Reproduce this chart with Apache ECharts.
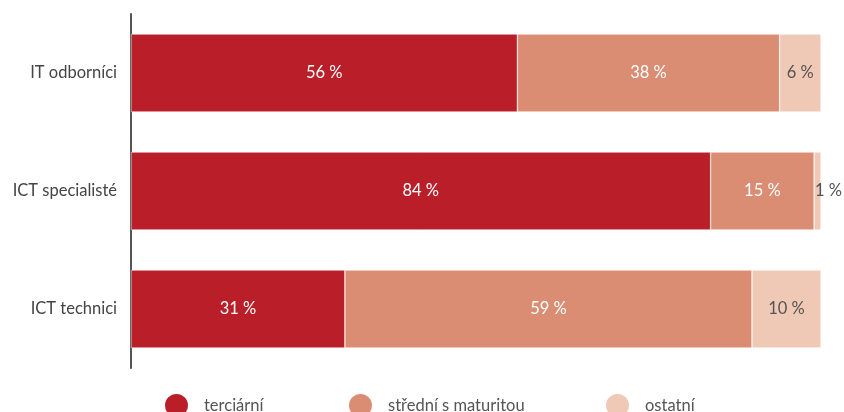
<!DOCTYPE html>
<html><head><meta charset="utf-8">
<script src="https://cdn.jsdelivr.net/npm/echarts@6/dist/echarts.min.js"></script>
<style>html,body{margin:0;padding:0;background:#fff}#c{width:844px;height:412px}</style>
</head><body><div id="c"></div>
<script>
const categories = ['IT odborníci', 'ICT specialisté', 'ICT technici'];
const seriesNames = ['terciární', 'střední s maturitou', 'ostatní'];
const terciarni = [56, 84, 31];
const stredni = [38, 15, 59];
const ostatni = [6, 1, 10];

const colors = ['#BA1F29', '#DA8D72', '#F0C8B6'];
const labelColors = ['#ffffff', '#ffffff', '#555555'];
const font = 'Lato, "Noto Sans", sans-serif';
const chart = echarts.init(document.getElementById('c'));
function mk(name, vals, i) {
  return {
    name: name, type: 'bar', stack: 'a', barWidth: 78,
    itemStyle: { color: colors[i], borderColor: '#fff', borderWidth: 0.5 },
    label: { show: true, position: 'inside', color: labelColors[i], fontSize: 16.5, fontFamily: font,
      formatter: p => p.value + ' %' },
    data: vals.map(v => v < 3 ? { value: v, label: { position: 'right', distance: -6 } } : v)
  };
}
const legendLefts = [158, 342, 599];
chart.setOption({
  animation: false,
  grid: { left: 131, right: 23, top: 14, bottom: 44 },
  xAxis: { type: 'value', min: 0, max: 100, show: false },
  yAxis: { type: 'category', data: categories, inverse: true,
    axisLine: { show: true, lineStyle: { color: '#555', width: 2 } },
    axisTick: { show: false },
    axisLabel: { color: '#444', fontSize: 16.5, fontFamily: font, margin: 14 } },
  legend: seriesNames.map((n, i) => ({
    data: [n], left: legendLefts[i], top: 387, icon: 'circle', itemWidth: 25, itemHeight: 25,
    itemGap: 0, textStyle: { color: '#555', fontSize: 16.5, fontFamily: font, padding: [0, 0, 0, 10] }
  })),
  series: [mk(seriesNames[0], terciarni, 0), mk(seriesNames[1], stredni, 1), mk(seriesNames[2], ostatni, 2)]
});
</script></body></html>
